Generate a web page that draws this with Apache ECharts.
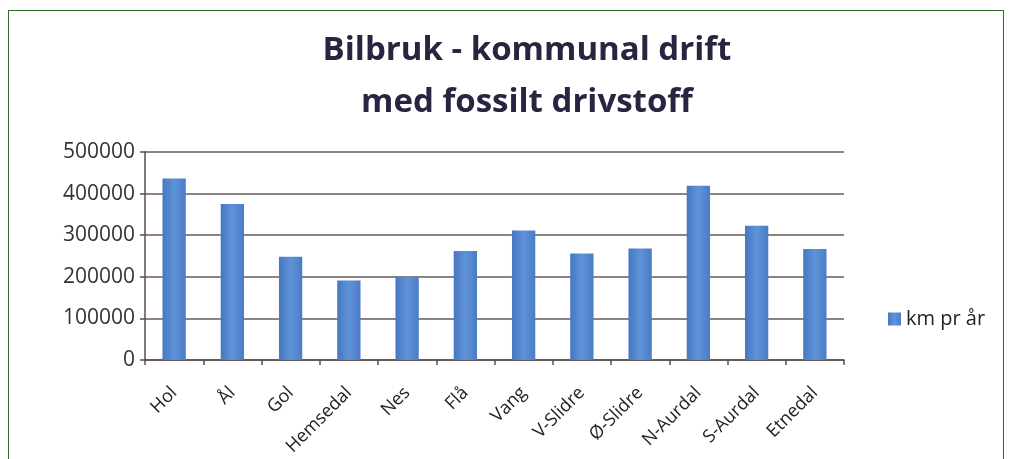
<!DOCTYPE html>
<html>
<head>
<meta charset="utf-8">
<script src="https://cdn.jsdelivr.net/npm/echarts@6/dist/echarts.min.js"></script>
<style>
html,body{margin:0;padding:0;background:#fff;}
#frame{position:absolute;left:8px;top:10px;width:994px;height:460px;border-left:1.5px solid #2f6a2f;border-top:1.5px solid #2f6a2f;border-right:1.5px solid #2f6a2f;}
#main{position:absolute;left:0;top:0;width:1012px;height:459px;}
</style>
</head>
<body>
<div id="frame"></div>
<div id="main"></div>
<script>
// kommuner og km pr år
var kommuner = ['Hol','Ål','Gol','Hemsedal','Nes','Flå','Vang','V-Slidre','Ø-Slidre','N-Aurdal','S-Aurdal','Etnedal'];
var kmPrAar = [436000,375000,248000,191000,200000,262000,311000,256000,268000,419000,323000,267000];
var yTicks = [0,100000,200000,300000,400000,500000];

var myChart = echarts.init(document.getElementById('main'));
var barColor = new echarts.graphic.LinearGradient(0,0,1,0,[
	{offset:0, color:'#4677c2'},
	{offset:0.5, color:'#5f93d8'},
	{offset:1, color:'#4a7cc6'}
]);
var option = {
	backgroundColor:'transparent',
	animation:false,
	title:{
		text:'Bilbruk - kommunal drift\nmed fossilt drivstoff',
		left:522,
		top:20,
		textAlign:'center',
		textStyle:{
			fontFamily:'Open Sans',
			fontWeight:'bold',
			fontSize:33,
			color:'#2b2440',
			lineHeight:52
		}
	},
	legend:{
		data:['km pr år'],
		orient:'vertical',
		left:883,
		top:304,
		itemWidth:13,
		itemHeight:13,
		itemGap:6,
		icon:'rect',
		textStyle:{fontFamily:'Open Sans',fontSize:20,color:'#222'}
	},
	grid:{left:145,right:168,top:152,bottom:99,containLabel:false},
	xAxis:{
		type:'category',
		data:kommuner,
		axisLine:{lineStyle:{color:'#5a4d4d',width:1.5}},
		axisTick:{show:true,length:5,lineStyle:{color:'#5a4d4d',width:1.5}},
		axisLabel:{
			rotate:45,
			margin:30,
			interval:0,
			padding:[16,0,0,0],
			fontFamily:'Open Sans',
			fontSize:18,
			color:'#222'
		}
	},
	yAxis:{
		type:'value',
		min:yTicks[0],
		max:yTicks[yTicks.length-1],
		interval:100000,
		axisLine:{show:true,lineStyle:{color:'#5a4d4d',width:1.5}},
		axisTick:{show:true,length:5,lineStyle:{color:'#5a4d4d',width:1.5}},
		axisLabel:{
			fontFamily:'Open Sans',fontSize:21,color:'#333',margin:10,
			formatter:function(v){ return String(v); }
		},
		splitLine:{lineStyle:{color:'#6a5858',width:1.5}}
	},
	series:[{
		name:'km pr år',
		type:'bar',
		data:kmPrAar,
		barWidth:'40%',
		itemStyle:{color:barColor}
	}]
};
myChart.setOption(option);
</script>
</body>
</html>
